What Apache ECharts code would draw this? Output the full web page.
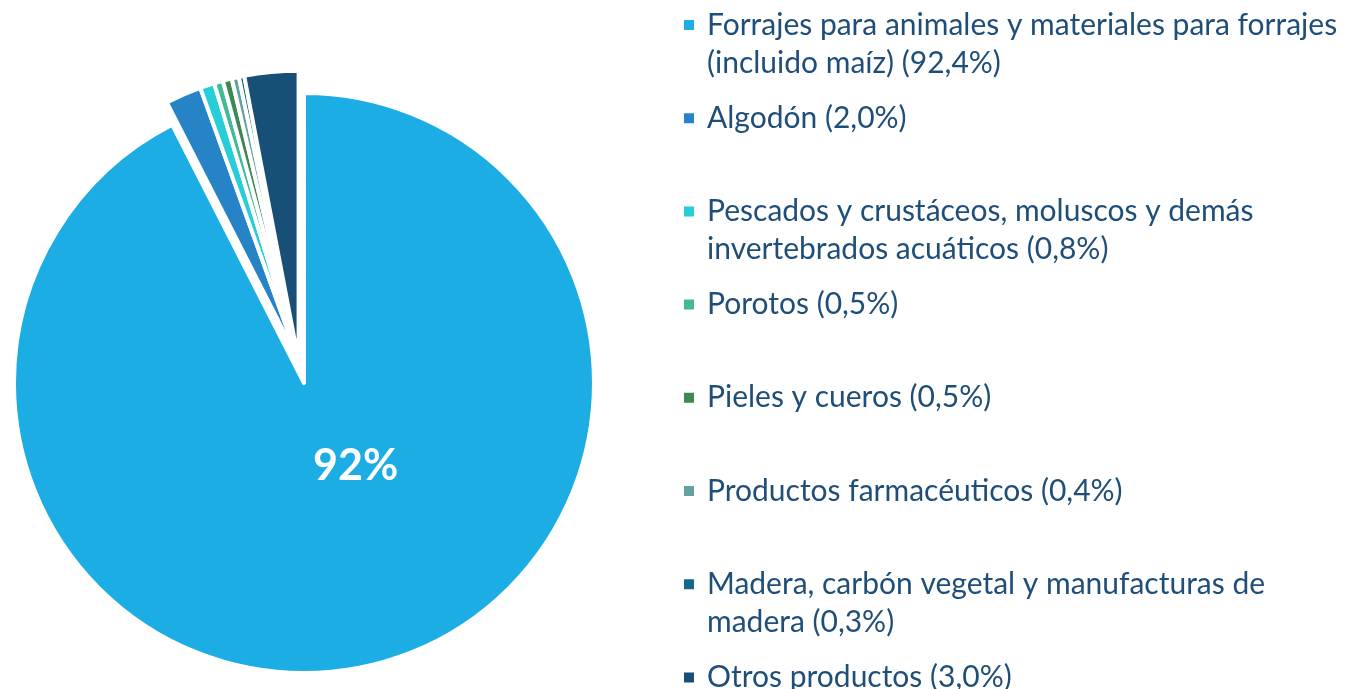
<!DOCTYPE html>
<html>
<head>
<meta charset="utf-8">
<script src="https://cdn.jsdelivr.net/npm/echarts@6/dist/echarts.min.js"></script>
<style>
  html, body { margin: 0; padding: 0; background: #fff; }
  #chart { width: 1345px; height: 689px; }
</style>
</head>
<body>
<div id="chart"></div>
<script>
// categories (legend labels, line breaks as in the original)
const categories = [
  'Forrajes para animales y materiales para forrajes\n(incluido maíz) (92,4%)',
  'Algodón (2,0%)',
  'Pescados y crustáceos, moluscos y demás\ninvertebrados acuáticos (0,8%)',
  'Porotos (0,5%)',
  'Pieles y cueros (0,5%)',
  'Productos farmacéuticos (0,4%)',
  'Madera, carbón vegetal y manufacturas de\nmadera (0,3%)',
  'Otros productos (3,0%)'
]
// share of each product (%)
const values = [92.4, 2.0, 0.8, 0.5, 0.5, 0.4, 0.3, 3.0]
const colors = ['#1CADE4', '#2683C6', '#27CED7', '#42BA97', '#3E8853', '#62A39F', '#13688B', '#184F77']

const chart = echarts.init(document.getElementById('chart'))

const LH = 38
const total = values.reduce((a, b) => a + b, 0)

const legendData = categories.map(name => {
  const twoLines = name.indexOf('\n') >= 0
  return {
    name,
    // every item 3 lines tall, icon in line with the first text line
    textStyle: { padding: twoLines ? [0, 0, 0, 7] : [LH, 0, LH, 7] }
  }
})

const option = {
  animation: false,
  color: colors,
  legend: {
    orient: 'vertical',
    left: 682,
    top: 25 - LH * 1.5,
    height: 900,
    padding: 0,
    itemGap: 93.2 - LH * 3,
    itemWidth: 12,
    itemHeight: 12,
    icon: 'rect',
    data: legendData,
    formatter: name => name.indexOf('\n') >= 0 ? '\n' + name : name,
    textStyle: {
      fontFamily: 'Lato',
      fontSize: 30,
      lineHeight: LH,
      color: '#1F4E79'
    }
  },
  graphic: [
    {
      // percentage label of the largest slice
      type: 'text',
      z: 100,
      left: 313,
      top: 445,
      style: {
        text: Math.round(values[0] / total * 100) + '%',
        fill: '#fff',
        font: 'bold 43px Lato'
      }
    }
  ],
  series: [
    {
      type: 'pie',
      center: [298.6, 360.7],
      radius: 290,
      startAngle: 90,
      selectedMode: 'multiple',
      selectedOffset: 23,
      itemStyle: {
        borderColor: '#fff',
        borderWidth: 4
      },
      label: { show: false },
      labelLine: { show: false },
      emphasis: { scale: false },
      data: values.map((v, i) => ({ name: categories[i], value: v, selected: i === 0 }))
    }
  ]
}

chart.setOption(option)
window.addEventListener('resize', () => chart.resize())
</script>
</body>
</html>
